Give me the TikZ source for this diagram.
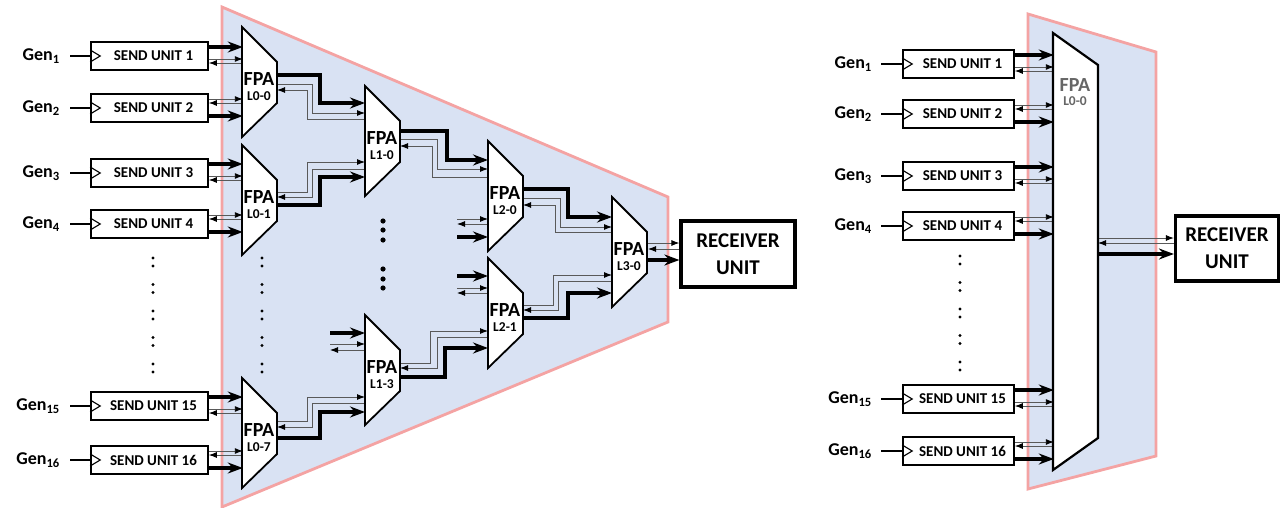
\documentclass[tikz,border=0pt]{standalone}
\usepackage{fontspec}
\setmainfont{Carlito}
\usetikzlibrary{arrows.meta,calc}
\definecolor{bgblue}{HTML}{D9E2F3}
\definecolor{edgered}{HTML}{F4A3A3}
\tikzset{
  bus/.style={line width=3.4pt,-{Stealth[length=15pt,width=11pt,inset=5pt]}},
  fwd/.style={line width=0.9pt,draw=black!65,-{Latex[length=8pt,width=6pt,black]}},
  ret/.style={line width=0.9pt,draw=black!65,{Latex[length=8pt,width=6pt,black]}-},
  fpabox/.style={draw,line width=1.8pt,fill=white,line join=miter},
  fpat/.style={font=\bfseries\fontsize{20}{20}\selectfont,inner sep=0},
  fpas/.style={font=\bfseries\fontsize{13.5}{13.5}\selectfont,inner sep=0},
  subox/.style={draw,line width=1.6pt,fill=white,minimum height=28pt,inner sep=0,
    font=\bfseries\fontsize{15}{15}\selectfont},
  genlab/.style={font=\bfseries\fontsize{18}{18}\selectfont,inner sep=0,anchor=east},
  genline/.style={line width=1.6pt},
  rxbox/.style={draw,line width=3.2pt,fill=white,align=center,inner sep=0,
    font=\bfseries\fontsize{21}{27}\selectfont},
  region/.style={fill=bgblue,draw=edgered,line width=2.8pt,line join=miter},
}
\newcommand\FPAshape[4]{%
  \coordinate (#1) at (#2,#3);
  \draw[fpabox] (#2,#3-55) -- (#2+35,#3-20) -- (#2+35,#3+21) -- (#2,#3+55) -- cycle;
  \node[fpat] (#1t) at (#2+17,#3-3) {FPA};
  \node[fpas] (#1s) at (#2+17,#3+14) {#4};
}
\newcommand\stair[6]{\draw[#1] (#2,#3) -| (#4,#5) -- (#6,#5);}
\newcommand\inTop[2]{%
  \draw[bus] ([yshift=9pt]#1.east) -- ++(#2,0);
  \draw[fwd] ([yshift=-3pt]#1.east) -- ++(#2,0);
  \draw[ret] ([yshift=-7pt]#1.east) -- ++(#2,0);}
\newcommand\inBot[2]{%
  \draw[fwd] ([yshift=9pt]#1.east) -- ++(#2,0);
  \draw[ret] ([yshift=5pt]#1.east) -- ++(#2,0);
  \draw[bus] ([yshift=-8pt]#1.east) -- ++(#2,0);}
\begin{document}
\begin{tikzpicture}[x=1pt,y=-1pt]
\useasboundingbox (0,0) rectangle (1281,508);
% ---------------- left diagram ----------------
\draw[region] (222,7) -- (668,197) -- (668,322) -- (222,507) -- cycle;
\foreach \n/\y in {1/56,2/108,3/173,4/224,15/406,16/460}{
  \node[subox,minimum width=117pt] (suL\n) at (149.5,\y) {\hspace*{8pt}SEND UNIT \n};
  \node[genlab] (genL\n) at (60,\y) {Gen\textsubscript{\n}};
  \coordinate (gsL\n) at (70,\y);
  \draw[genline] (gsL\n) -- (suL\n.west);
  \draw[line width=1.1pt] ([yshift=6pt]suL\n.west) -- ++(10,6) -- ++(-10,6);
}
\foreach \x in {153,262}{
  \foreach \yy in {258,266,284.5,292.5,311,319,337.5,345.5,364,372}
    \fill (\x,\yy) circle (1.7);
}
\foreach \yy in {221,230,240,269,279,288}
  \fill (383,\yy) circle (2.6);
% inputs from send units
\inTop{suL1}{34} \inBot{suL2}{34}
\inTop{suL3}{34} \inBot{suL4}{34}
\inTop{suL15}{34} \inBot{suL16}{34}
% L0-0 -> L1-0
\stair{bus}{277}{75}{320}{103}{365}
\stair{fwd}{277}{84}{312}{113}{365}
\stair{ret}{277}{90}{307}{119}{365}
% L0-1 -> L1-0
\stair{fwd}{277}{192}{307}{162}{365}
\stair{ret}{277}{197}{312}{169}{365}
\stair{bus}{277}{205}{320}{177}{365}
% L0-7 -> L1-3
\stair{fwd}{277}{421}{307}{397}{365}
\stair{ret}{277}{427}{312}{403}{365}
\stair{bus}{277}{438}{320}{412}{365}
% L1-0 -> L2-0
\stair{bus}{400}{131}{447}{160}{488}
\stair{fwd}{400}{139}{437}{169}{488}
\stair{ret}{400}{146}{432}{177}{488}
% L1-3 -> L2-1
\stair{fwd}{400}{363}{430}{331}{488}
\stair{ret}{400}{368}{437}{337}{488}
\stair{bus}{400}{377}{445}{348}{488}
% L2-0 -> L3-0
\stair{bus}{523}{189}{568}{217}{612}
\stair{fwd}{523}{198}{560}{227}{612}
\stair{ret}{523}{205}{555}{232}{612}
% L2-1 -> L3-0
\stair{fwd}{523}{305}{553}{275}{612}
\stair{ret}{523}{310}{558}{281}{612}
\stair{bus}{523}{318}{568}{293}{612}
% dangling inputs
\coordinate (sa) at (457,219); \draw[fwd] (sa) -- (488,219);
\coordinate (sb) at (457,224); \draw[ret] (sb) -- (488,224);
\coordinate (sc) at (457,237); \draw[bus] (sc) -- (488,237);
\coordinate (sd) at (457,276); \draw[bus] (sd) -- (488,276);
\coordinate (se) at (457,288); \draw[fwd] (se) -- (488,288);
\coordinate (sf) at (457,293); \draw[ret] (sf) -- (488,293);
\coordinate (sg) at (330,333); \draw[bus] (sg) -- (365,333);
\coordinate (sh) at (330,344); \draw[fwd] (sh) -- (365,344);
\coordinate (si) at (330,350); \draw[ret] (si) -- (365,350);
% receiver
\node[rxbox,minimum width=114pt,minimum height=66pt] (rxL) at (738,254) {RECEIVER\\UNIT};
\draw[fwd] (648,243) -- (rxL.west |- 0,243);
\draw[ret] (648,249) -- (rxL.west |- 0,249);
\draw[bus] (648,260) -- (rxL.west |- 0,260);
% FPAs
\FPAshape{f00}{242}{82}{L0-0}
\FPAshape{f01}{242}{200}{L0-1}
\FPAshape{f07}{242}{433}{L0-7}
\FPAshape{f10}{365}{141}{L1-0}
\FPAshape{f13}{365}{370}{L1-3}
\FPAshape{f20}{488}{196}{L2-0}
\FPAshape{f21}{488}{313}{L2-1}
\FPAshape{f30}{612}{252}{L3-0}
% ---------------- right diagram ----------------
\draw[region] (1028,14) -- (1156,52) -- (1156,456) -- (1028,489) -- cycle;
\foreach \n/\y in {1/64,2/114,3/176,4/226,15/399,16/451}{
  \node[subox,minimum width=111pt] (suR\n) at (958.5,\y) {\hspace*{8pt}SEND UNIT \n};
  \node[genlab] (genR\n) at (872,\y) {Gen\textsubscript{\n}};
  \coordinate (gsR\n) at (881,\y);
  \draw[genline] (gsR\n) -- (suR\n.west);
  \draw[line width=1.1pt] ([yshift=6pt]suR\n.west) -- ++(10,6) -- ++(-10,6);
}
\foreach \yy in {256,264,282.5,290.5,309,317,335.5,343.5,362,370}
  \fill (960,\yy) circle (1.7);
\inTop{suR1}{39} \inBot{suR2}{39}
\inTop{suR3}{39} \inBot{suR4}{39}
\inTop{suR15}{39} \inBot{suR16}{39}
\node[rxbox,minimum width=103pt,minimum height=65pt] (rxR) at (1227,248.5) {RECEIVER\\UNIT};
\draw[fwd] (1098,238) -- (rxR.west |- 0,238);
\draw[ret] (1098,243) -- (rxR.west |- 0,243);
\draw[bus] (1098,254) -- (rxR.west |- 0,254);
\coordinate (fR) at (1075,250);
\draw[fpabox,line width=2.2pt] (1053,33) -- (1098,65) -- (1098,438) -- (1053,470) -- cycle;
\node[fpat,text=black!60] (fRt) at (1075,85) {FPA};
\node[fpas,text=black!60] (fRs) at (1075,101) {L0-0};
\end{tikzpicture}
\end{document}
